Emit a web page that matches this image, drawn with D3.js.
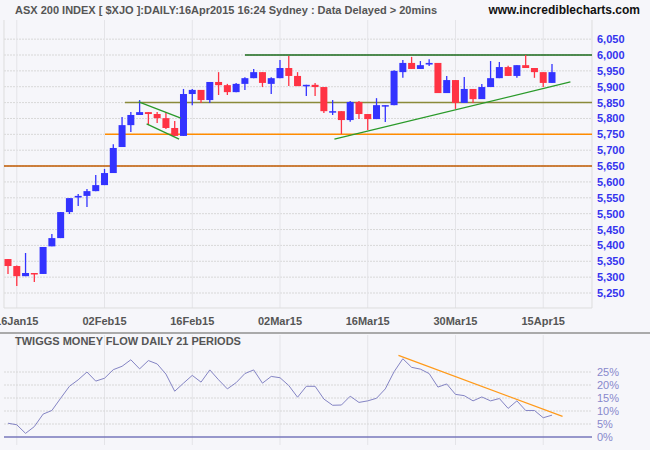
<!DOCTYPE html>
<html>
<head>
<meta charset="utf-8">
<script src="https://cdn.jsdelivr.net/npm/d3@7"></script>
<style>
  body { margin: 0; background: #f6f6fa; }
  svg { display: block; font-family: "Liberation Sans", Arial, sans-serif; }
</style>
</head>
<body>
<svg id="chart"></svg>
<script>
// daily OHLC, 15 Jan 2015 .. 16 Apr 2015
const opens = [5357,5335,5303,5313,5310,5397,5423,5505,5551,5556,5571,5590,5628,5710,5779,5811,5820,5814,5801,5770,5745,5877,5890,5858,
  5915,5905,5883,5909,5927,5946,5909,5927,5959,5934,5903,5906,5899,5820,5823,5795,5852,5814,5798,5842,
  5842,5946,5975,5956,5970,5975,5880,5921,5849,5893,5861,5899,5927,5962,5934,5968,5959,5946,5912];
const closes = [5335,5303,5313,5310,5395,5423,5505,5549,5556,5571,5590,5628,5707,5779,5811,5820,5814,5801,5770,5745,5877,5890,5858,5915,
  5905,5883,5909,5927,5946,5912,5927,5959,5934,5902,5906,5899,5823,5823,5795,5852,5814,5798,5842,5842,
  5950,5975,5956,5968,5975,5880,5921,5849,5893,5861,5899,5927,5962,5934,5968,5959,5946,5912,5946];
const highs = [5357,5337,5376,5313,5395,5436,5505,5549,5562,5578,5622,5641,5719,5805,5820,5858,5820,5820,5820,5792,5893,5893,5890,5915,
  5946,5909,5912,5930,5956,5946,5930,5984,5997,5946,5906,5912,5899,5858,5823,5855,5855,5814,5864,5842,
  5952,5984,5994,5981,5987,5975,5934,5921,5931,5893,5909,5981,5978,5966,5968,6000,5959,5946,5972];
const lows = [5310,5272,5303,5285,5310,5397,5423,5499,5524,5521,5571,5590,5628,5710,5757,5811,5779,5786,5767,5745,5745,5842,5849,5849,
  5874,5874,5883,5890,5927,5899,5877,5927,5902,5902,5871,5871,5817,5811,5751,5790,5798,5764,5798,5789,
  5842,5928,5956,5956,5965,5880,5880,5830,5849,5849,5861,5899,5927,5934,5928,5959,5928,5899,5912];
// Twiggs money flow, %
const moneyFlow = [5.3,4.7,1.4,4,8.8,10.2,14.9,19.5,22,25,21.5,22.6,25.9,27.2,29.7,26.2,29.4,28.1,24.2,17.6,20.7,23.7,21.1,25.8,22,18.5,
  20.9,24.4,25.8,20.7,23.3,22.8,19.8,15.3,19.5,19.5,14.6,12.2,12.3,15.7,13.3,13.9,14.9,18.5,25.1,30.1,26.8,26.1,24.4,19.2,20.4,16.4,15.9,
  13.9,15.4,13.9,14.8,11,13.9,10.2,10.2,7.4,8.4];
const dateLabels = ["16Jan15","02Feb15","16Feb15","02Mar15","16Mar15","30Mar15","15Apr15"];
const labelIdx = [1,11,21,31,41,51,61];
const priceTicks = d3.range(5250, 6051, 50);
const mfTicks = [0,5,10,15,20,25];

const W = 650, H = 450;
const left = 4, right = 592;
const svg = d3.select('#chart').attr('width', W).attr('height', H);

const x = d3.scaleLinear().domain([0, opens.length - 1]).range([8, 552]);
const y = d3.scaleLinear().domain([5250, 6000]).range([293, 55]);
const ym = d3.scaleLinear().domain([0, 25]).range([437, 372]);

svg.append('rect').attr('width', W).attr('height', H).attr('fill', '#f6f6fa');

// header
svg.append('text').attr('x', 15).attr('y', 14).attr('font-size', 11).attr('font-weight', 'bold')
  .attr('fill', '#555').text('ASX 200 INDEX [ $XJO ]:DAILY:16Apr2015 16:24 Sydney : Data Delayed > 20mins');
svg.append('text').attr('x', 640).attr('y', 14).attr('font-size', 12).attr('font-weight', 'bold')
  .attr('text-anchor', 'end').attr('fill', '#111').text('www.incrediblecharts.com');

// price grid
const grid = svg.append('g');
grid.selectAll('.hg').data(priceTicks).join('line')
  .attr('x1', left).attr('x2', right).attr('y1', d => y(d)).attr('y2', d => y(d))
  .attr('stroke', '#d8d8d8').attr('stroke-dasharray', '2,1');
grid.selectAll('.vg').data(labelIdx).join('line')
  .attr('x1', d => x(d)).attr('x2', d => x(d)).attr('y1', 20).attr('y2', 308)
  .attr('stroke', '#e4e4e8');
grid.selectAll('.vg2').data(labelIdx).join('line')
  .attr('x1', d => x(d)).attr('x2', d => x(d)).attr('y1', 335).attr('y2', 445)
  .attr('stroke', '#e4e4e8');
svg.append('line').attr('x1', left).attr('x2', right).attr('y1', 308).attr('y2', 308).attr('stroke', '#ddd');
svg.append('line').attr('x1', right).attr('x2', right).attr('y1', 20).attr('y2', 308).attr('stroke', '#ddd');
svg.append('line').attr('x1', left).attr('x2', left).attr('y1', 20).attr('y2', 308).attr('stroke', '#ddd');

// y axis labels
svg.append('g').selectAll('text').data(priceTicks).join('text')
  .attr('x', 597).attr('y', d => y(d) + 4).attr('font-size', 11).attr('font-weight', 'bold')
  .attr('fill', '#3333ee').text(d3.format(','));

// x axis labels
svg.append('g').selectAll('text').data(dateLabels).join('text')
  .attr('x', (d, i) => x(labelIdx[i])).attr('y', 325).attr('text-anchor', 'middle')
  .attr('font-size', 11).attr('font-weight', 'bold').attr('fill', '#555').text(d => d);

// support / resistance lines
const hLines = [[6000, 245, '#1a6a1a'], [5850, 125, '#8a8a3a'], [5750, 105, '#ff8c00'], [5650, 4, '#c05a00']];
svg.append('g').selectAll('line').data(hLines).join('line')
  .attr('x1', d => d[1]).attr('x2', right).attr('y1', d => y(d[0])).attr('y2', d => y(d[0]))
  .attr('stroke', d => d[2]).attr('stroke-width', 1.5);

// candles
const idx = d3.range(opens.length);
const col = i => closes[i] >= opens[i] ? '#3333ff' : '#ff3344';
const cg = svg.append('g');
cg.selectAll('.wick').data(idx).join('line')
  .attr('x1', i => x(i)).attr('x2', i => x(i)).attr('y1', i => y(highs[i])).attr('y2', i => y(lows[i]))
  .attr('stroke', col).attr('stroke-width', 1.3);
cg.selectAll('.body').data(idx).join('rect')
  .attr('x', i => x(i) - 3.5).attr('width', 7)
  .attr('y', i => y(Math.max(opens[i], closes[i])))
  .attr('height', i => Math.max(1.5, Math.abs(y(opens[i]) - y(closes[i]))))
  .attr('fill', col);

// trend lines
const trends = [[[14.9, 5852], [19.7, 5801]], [[15.8, 5783], [19.5, 5735]], [[37.2, 5735], [64.1, 5915]]];
svg.append('g').selectAll('line').data(trends).join('line')
  .attr('x1', d => x(d[0][0])).attr('y1', d => y(d[0][1]))
  .attr('x2', d => x(d[1][0])).attr('y2', d => y(d[1][1]))
  .attr('stroke', '#2a9a2a').attr('stroke-width', 1.3);

// separator
svg.append('line').attr('x1', 0).attr('x2', W).attr('y1', 333).attr('y2', 333).attr('stroke', '#aaa').attr('stroke-width', 2);

// money flow panel
svg.append('g').selectAll('line').data(mfTicks.slice(1)).join('line')
  .attr('x1', left).attr('x2', right).attr('y1', d => ym(d)).attr('y2', d => ym(d))
  .attr('stroke', '#d8d8d8').attr('stroke-dasharray', '2,1');
svg.append('line').attr('x1', left).attr('x2', right).attr('y1', ym(0)).attr('y2', ym(0))
  .attr('stroke', '#7777bb').attr('stroke-width', 1.3);
svg.append('g').selectAll('text').data(mfTicks).join('text')
  .attr('x', 597).attr('y', d => ym(d) + 4).attr('font-size', 11)
  .attr('fill', '#8888cc').text(d => d + '%');
svg.append('text').attr('x', 15).attr('y', 345).attr('font-size', 11).attr('font-weight', 'bold')
  .attr('fill', '#555').text('TWIGGS MONEY FLOW DAILY 21 PERIODS');
svg.append('path').datum(moneyFlow)
  .attr('d', d3.line().x((d, i) => x(i)).y(d => ym(d)))
  .attr('fill', 'none').attr('stroke', '#8484c4').attr('stroke-width', 1);
const mfTrend = [[44.5, 31.4], [63.2, 7.9]];
svg.append('line')
  .attr('x1', x(mfTrend[0][0])).attr('y1', ym(mfTrend[0][1]))
  .attr('x2', x(mfTrend[1][0])).attr('y2', ym(mfTrend[1][1]))
  .attr('stroke', '#ff9a1a').attr('stroke-width', 1.3);
</script>
</body>
</html>
